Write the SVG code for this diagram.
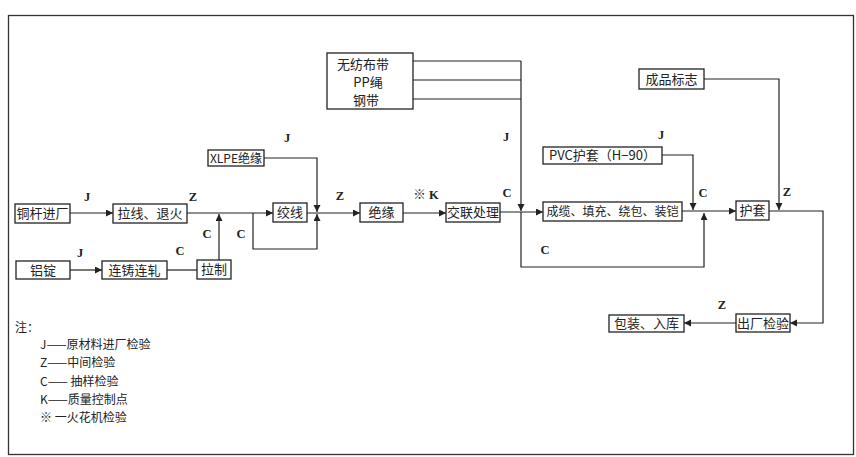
<svg xmlns="http://www.w3.org/2000/svg" width="856" height="457" viewBox="0 0 856 457">
<defs>
<marker id="ah" markerUnits="userSpaceOnUse" markerWidth="8" markerHeight="8" refX="7" refY="3.5" orient="auto">
<path d="M0,0 L7,3.5 L0,7 Z" fill="#222"/>
</marker>
<style>
.box{fill:#fff;stroke:#222;stroke-width:1.3}
.t{font-family:"Noto Sans CJK SC","Noto Sans",sans-serif;font-size:13px;fill:#222;text-anchor:middle}
.s{font-size:12px}
.l{font-family:"Liberation Serif","Noto Sans CJK SC",serif;font-size:12.5px;font-weight:bold;fill:#222;text-anchor:middle}
.lg{font-family:"Noto Sans CJK SC","Liberation Sans",sans-serif;font-size:12px;fill:#222}
.c{fill:none;stroke:#222;stroke-width:1.2}
.a{marker-end:url(#ah)}
</style>
</defs>
<rect x="0" y="0" width="856" height="457" fill="#fff"/>
<rect x="8.5" y="15.5" width="845" height="439" fill="none" stroke="#333" stroke-width="1.3"/>

<g id="connectors">
<path class="c a" d="M70,213 H113"/>
<path class="c a" d="M187,213 H273"/>
<path class="c a" d="M70,270 H102"/>
<path class="c" d="M167,270 H197"/>
<path class="c a" d="M219,260 V214"/>
<path class="c a" d="M253,213 V249 H317 V214"/>
<path class="c a" d="M264,158 H317 V212"/>
<path class="c a" d="M307,213 H360"/>
<path class="c a" d="M403,213 H446"/>
<path class="c a" d="M500,212 H543"/>
<path class="c" d="M413,61 H521 M413,80 H521 M413,99 H521"/>
<path class="c a" d="M521,61 V211"/>
<path class="c a" d="M521,212 V267 H704 V213"/>
<path class="c a" d="M662,155 H693 V210"/>
<path class="c a" d="M682,211 H736"/>
<path class="c a" d="M704,79 H779 V210"/>
<path class="c a" d="M769,211 H823 V323 H790"/>
<path class="c a" d="M736,323 H684"/>
</g>

<g id="labels">
<text class="l" x="87" y="201">J</text>
<text class="l" x="193" y="201">Z</text>
<text class="l" x="80" y="257">J</text>
<text class="l" x="180" y="255">C</text>
<text class="l" x="207" y="238">C</text>
<text class="l" x="241" y="238">C</text>
<text class="l" x="287" y="142">J</text>
<text class="l" x="340" y="200">Z</text>
<text class="l" x="426" y="199">※ K</text>
<text class="l" x="507" y="197">C</text>
<text class="l" x="506" y="141">J</text>
<text class="l" x="545" y="254">C</text>
<text class="l" x="661" y="139">J</text>
<text class="l" x="703" y="197">C</text>
<text class="l" x="787" y="196">Z</text>
<text class="l" x="722" y="309">Z</text>
</g>

<g id="n1"><rect class="box" x="15" y="204" width="55" height="19"/><text class="t" x="42.5" y="218">铜杆进厂</text></g>
<g id="n2"><rect class="box" x="113" y="204" width="74" height="19"/><text class="t" x="150" y="218">拉线、退火</text></g>
<g id="n3"><rect class="box" x="16" y="261" width="54" height="18"/><text class="t" x="43" y="275">铝锭</text></g>
<g id="n4"><rect class="box" x="102" y="261" width="65" height="18"/><text class="t" x="134.5" y="275">连铸连轧</text></g>
<g id="n5"><rect class="box" x="197" y="260" width="34" height="19"/><text class="t" x="214" y="274">拉制</text></g>
<g id="n6"><rect class="box" x="208" y="150" width="56" height="16"/><text class="t s" x="236" y="162.5">XLPE绝缘</text></g>
<g id="n7"><rect class="box" x="273" y="203" width="34" height="19"/><text class="t" x="290" y="217">绞线</text></g>
<g id="n8"><rect class="box" x="360" y="203" width="43" height="19"/><text class="t" x="381.5" y="217">绝缘</text></g>
<g id="n9"><rect class="box" x="446" y="203" width="54" height="19"/><text class="t" x="473" y="217">交联处理</text></g>
<g id="n10"><rect class="box" x="327" y="53" width="86" height="56"/>
<text class="t" x="363" y="69">无纺布带</text>
<text class="t" x="368" y="87">PP绳</text>
<text class="t" x="366" y="105">钢带</text></g>
<g id="n11"><rect class="box" x="543" y="147" width="119" height="17"/><text class="t" x="602.5" y="160">PVC护套（H−90）</text></g>
<g id="n12"><rect class="box" x="543" y="202" width="139" height="19"/><text class="t s" x="612.5" y="216">成缆、填充、绕包、装铠</text></g>
<g id="n13"><rect class="box" x="639" y="69" width="65" height="20"/><text class="t" x="671.5" y="83.5">成品标志</text></g>
<g id="n14"><rect class="box" x="736" y="201" width="33" height="19"/><text class="t" x="752.5" y="215">护套</text></g>
<g id="n15"><rect class="box" x="736" y="314" width="54" height="18"/><text class="t" x="763" y="327.5">出厂检验</text></g>
<g id="n16"><rect class="box" x="609" y="315" width="75" height="17"/><text class="t" x="646.5" y="328">包装、入库</text></g>

<g id="legend">
<text class="lg" x="15" y="332">注：</text>
<text class="lg" x="40" y="349">J——原材料进厂检验</text>
<text class="lg" x="40" y="367">Z——中间检验</text>
<text class="lg" x="40" y="386">C—— 抽样检验</text>
<text class="lg" x="40" y="404">K——质量控制点</text>
<text class="lg" x="40" y="422">※ 一火花机检验</text>
</g>
</svg>
